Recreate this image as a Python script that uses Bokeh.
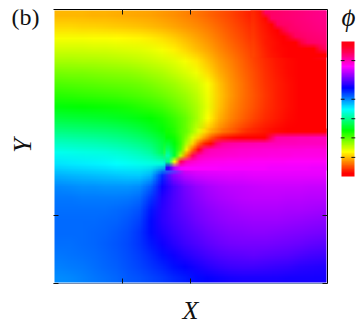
import base64
import colorsys
import math
import struct
import zlib
import numpy as np
from bokeh.embed import file_html
from bokeh.layouts import row
from bokeh.models import FixedTicker, Label, LinearAxis
from bokeh.plotting import figure
from bokeh.resources import INLINE

# phase, hue in degrees, top row first
phase_rows = [
    [43,43,43,42,42,41,40,39,38,36,34,31,28,24,20,16,11,6,335,333,331,329,327,325],
    [51,51,50,50,49,48,47,46,44,42,39,36,33,29,24,19,14,9,4,1,335,332,330,328],
    [62,62,62,61,61,60,59,58,56,53,49,44,39,34,28,22,17,11,6,2,0,338,335,332],
    [71,71,71,70,70,69,68,67,65,62,57,51,45,39,32,26,20,14,8,4,1,0,0,345],
    [81,81,80,80,79,78,77,75,73,70,67,62,55,46,37,30,23,16,10,5,2,0,0,0],
    [92,91,91,90,89,88,87,85,82,79,74,69,63,52,41,33,25,18,11,6,2,0,0,0],
    [102,101,100,99,98,97,96,94,91,87,83,77,71,61,46,35,27,19,12,7,3,0,0,0],
    [111,110,109,108,107,106,104,102,99,95,90,84,76,63,47,36,27,20,13,7,3,0,0,0],
    [122,121,120,119,118,117,115,112,109,105,98,90,80,65,46,34,26,19,12,7,3,0,0,0],
    [134,133,132,131,130,128,126,123,120,115,107,97,82,60,42,31,23,16,10,6,2,0,0,0],
    [148,147,146,145,144,142,139,135,129,122,112,97,75,48,33,23,15,9,5,2,0,0,0,0],
    [163,162,161,160,158,156,153,149,143,133,118,92,50,22,3,350,325,322,320,319,318,317,316,316],
    [176,175,174,173,172,170,167,163,157,140,85,35,345,318,314,312,311,310,309,308,308,307,307,306],
    [186,185,184,183,182,180,178,176,174,172,200,308,303,301,300,300,299,299,299,299,299,298,298,298],
    [198,197,196,195,194,193,192,192,198,230,272,284,289,291,292,293,293,294,294,294,294,294,294,294],
    [208,207,206,206,205,205,205,207,218,243,257,268,275,280,283,285,286,287,288,288,288,288,287,287],
    [212,212,211,211,211,211,212,215,228,248,258,266,272,277,280,282,284,285,285,285,284,284,283,283],
    [214,214,214,214,214,215,217,221,235,250,258,264,269,273,276,278,280,281,281,281,280,280,279,278],
    [215,215,215,215,216,217,220,225,238,250,256,261,266,270,273,275,276,277,277,277,276,275,274,273],
    [215,215,215,216,217,219,222,228,238,247,253,258,262,266,269,271,272,273,273,272,271,270,269,268],
    [214,214,215,216,218,220,223,228,235,243,249,254,258,262,265,267,268,268,268,267,266,265,263,262],
    [212,213,214,215,217,219,222,226,231,237,243,248,252,256,259,261,262,263,262,261,260,258,256,255],
    [210,211,212,214,216,218,221,224,228,232,237,241,245,249,252,254,255,255,254,253,252,250,249,248],
    [207,208,210,212,214,216,219,221,224,227,231,234,238,241,243,245,246,246,246,246,245,245,245,245],
]
# finer readings along the sharp red edge that starts at the vortex
edge_rows = [
    [116,111,102,95,82,68,52,42,35,28,24,20,15,11,9,7,5,3,2,1,0,0,0,0,0,0,0],
    [122,116,104,88,68,50,36,22,12,6,3,1,0,0,0,0,0,340,322,321,320,319,318,318,317,316,316],
    [133,122,105,78,50,25,8,2,335,325,322,321,320,319,319,318,318,317,317,316,316,316,315,315,315,315,315],
    [145,128,100,55,25,355,325,318,316,315,314,313,312,312,311,311,310,310,310,309,309,309,309,308,308,308,308],
    [160,130,75,28,340,320,315,313,312,311,310,310,309,309,308,308,308,307,307,307,307,306,306,306,306,306,306],
    [150,60,340,318,312,308,306,305,304,304,303,303,303,303,302,302,302,302,302,302,301,301,301,301,301,301,301],
    [250,285,297,299,299,299,299,299,299,298,298,298,298,298,298,298,298,297,297,297,297,297,297,297,296,296,296],
]
# finer readings around the rose corner at the top right
corner_rows = [
    [9,5,337,336,335,334,333,332,331,330,329,328,327],
    [10,6,2,336,335,334,333,332,331,330,329,328,328],
    [11,7,4,1,338,336,335,333,332,331,330,329,329],
    [12,8,5,2,0,345,336,335,333,332,331,330,330],
    [13,9,6,3,1,0,350,338,336,334,333,332,331],
    [14,10,6,4,2,0,0,0,345,337,335,334,333],
    [15,11,7,4,2,1,0,0,0,0,0,345,336],
    [16,12,8,5,3,1,0,0,0,0,0,0,0],
]
bar_hues = [355,340,320,300,280,260,240,220,200,180,160,140,120,100,80,60,40,20,0]
x_ticks = [1, 2]
y_ticks = [0, 1]
bar_ticks = [51, 103, 154, 206, 309]
SERIF = "Liberation Serif"
TEXT = "#111111"


def png_uri(rows):
    """Encode a table of hues as a small PNG, so that the browser scales it smoothly."""
    a = np.array(rows, dtype=float)
    h, w = a.shape
    raw = b""
    for r in a:
        raw += b"\0" + b"".join(
            bytes(round(c * 255) for c in colorsys.hsv_to_rgb((v % 360) / 360, 1, 1)) for v in r)

    def chunk(tag, data):
        return struct.pack(">I", len(data)) + tag + data + struct.pack(">I", zlib.crc32(tag + data))

    png = (b"\x89PNG\r\n\x1a\n" + chunk(b"IHDR", struct.pack(">IIBBBBB", w, h, 8, 2, 0, 0, 0))
           + chunk(b"IDAT", zlib.compress(raw)) + chunk(b"IEND", b""))
    return "data:image/png;base64," + base64.b64encode(png).decode()


def ticks_only(axis, ticks, length=5):
    axis.ticker = FixedTicker(ticks=ticks)
    axis.major_label_overrides = {t: "" for t in ticks}
    axis.major_label_standoff = 0
    axis.major_tick_in = length
    axis.major_tick_out = 0
    axis.minor_tick_line_color = None
    axis.major_tick_line_color = TEXT


# left strip: only the panel letter and the Y title
lead = figure(width=53, height=320, frame_width=53, frame_height=274, x_range=(0, 53), y_range=(0, 274),
              output_backend="svg", toolbar_location=None, min_border_left=0, min_border_right=0,
              min_border_top=9, min_border_bottom=37, outline_line_color=None)
lead.grid.visible = False
lead.axis.visible = False
lead.add_layout(Label(x=11, y=267, x_units="screen", y_units="screen", text="(b)", text_font=SERIF,
                      text_font_size="24px", text_color=TEXT, text_baseline="middle"))
lead.add_layout(Label(x=22, y=138, x_units="screen", y_units="screen", text="Y", text_font=SERIF,
                      text_font_style="italic", text_font_size="26px", text_color=TEXT,
                      text_align="center", text_baseline="middle", angle=math.pi / 2))

p = figure(width=279, height=320, frame_width=274, frame_height=274, x_range=(0, 4), y_range=(0, 4),
           output_backend="svg", toolbar_location=None, min_border_left=0, min_border_right=5,
           min_border_top=9, min_border_bottom=37, background_fill_color="white",
           outline_line_color=None)
p.grid.visible = False
p.image_url(url=[png_uri(phase_rows)], x=0, y=4, w=4, h=4, anchor="top_left")
unit = 4 / 274
p.image_url(url=[png_uri(edge_rows)], x=112 * unit, y=(283 - 128) * unit, w=27 * 6 * unit, h=7 * 6 * unit,
            anchor="top_left")
p.image_url(url=[png_uri(corner_rows)], x=197 * unit, y=4, w=13 * 6 * unit, h=8 * 6 * unit, anchor="top_left")
ticks_only(p.xaxis[0], x_ticks)
ticks_only(p.yaxis[0], y_ticks)
p.xaxis[0].axis_line_color = "#7a8fb0"
p.yaxis[0].axis_line_color = None
p.xaxis[0].axis_label = "X"
p.xaxis[0].axis_label_text_font = SERIF
p.xaxis[0].axis_label_text_font_style = "italic"
p.xaxis[0].axis_label_text_font_size = "26px"
p.xaxis[0].axis_label_text_color = TEXT
p.xaxis[0].axis_label_standoff = 12
top = LinearAxis()
right = LinearAxis()
ticks_only(top, x_ticks)
ticks_only(right, y_ticks)
top.axis_line_color = "black"
right.axis_line_color = "black"
p.add_layout(top, "above")
p.add_layout(right, "right")

# colour bar: same frame height as the map, its range chosen so that 0..360 fills the bar
cb = figure(width=24, height=320, frame_width=15, frame_height=274, x_range=(0, 1), y_range=(-285.3, 445.3),
            output_backend="svg", toolbar_location=None, min_border_left=8, min_border_right=1,
            min_border_top=9, min_border_bottom=37, outline_line_color=None)
cb.grid.visible = False
cb.axis.visible = False
cb.image_url(url=[png_uri([[v] for v in bar_hues])], x=0, y=360, w=1, h=360, anchor="top_left")
for t in bar_ticks:
    cb.segment(x0=[0, 0.73], y0=[t, t], x1=[0.27, 1], y1=[t, t], line_color=TEXT, line_width=1)
cb.add_layout(Label(x=1, y=267, x_units="screen", y_units="screen", text="\u03d5", text_font=SERIF,
                    text_font_style="italic", text_font_size="27px", text_color=TEXT,
                    text_baseline="middle"))

open("out.html", "w").write(file_html(row(lead, p, cb, spacing=0), INLINE))
